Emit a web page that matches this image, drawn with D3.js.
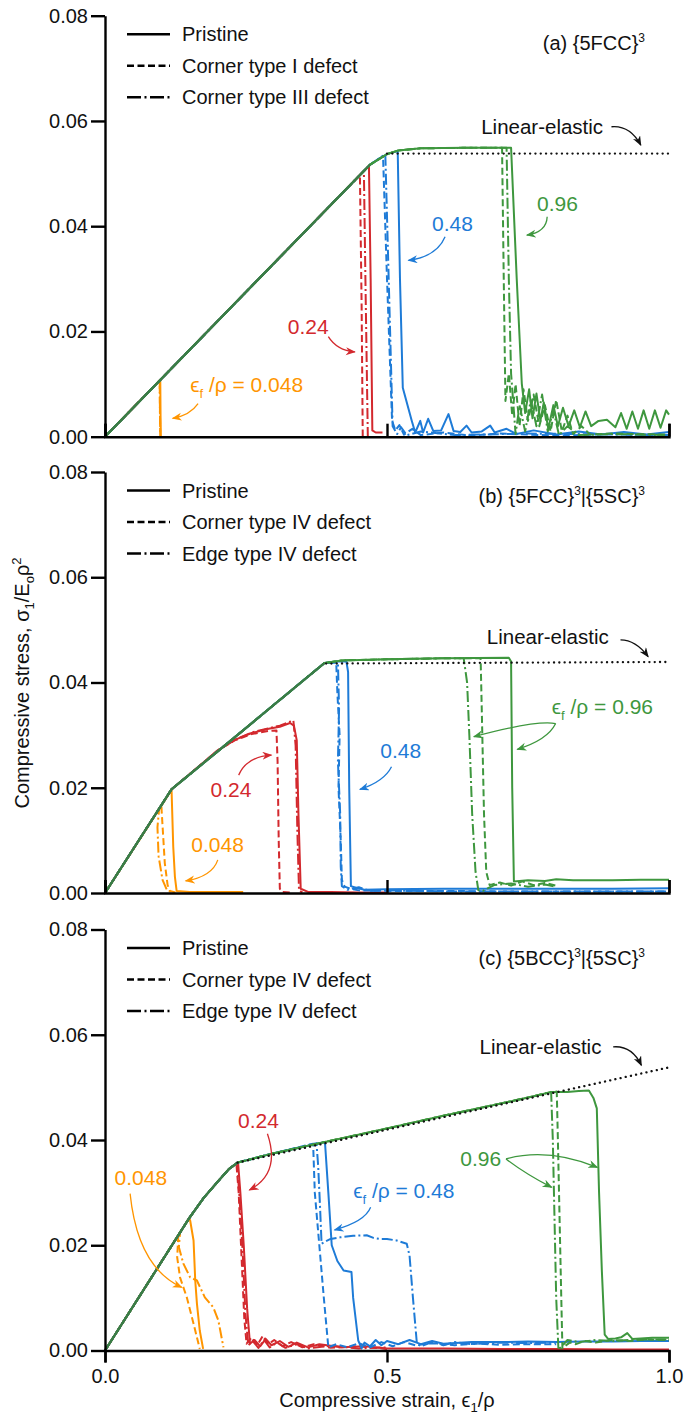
<!DOCTYPE html>
<html>
<head>
<meta charset="utf-8">
<script src="https://cdn.jsdelivr.net/npm/d3@7"></script>
<style>
  body { margin: 0; background: #fff; }
  text { font-family: "Liberation Sans", Arial, sans-serif; fill: #111; }
</style>
</head>
<body>
<svg id="chart" width="686" height="1416"></svg>
<script>
// ---- axis ticks ----
var xTicks = [0, 0.5, 1.0];
var xTickLabels = ["0.0", "0.5", "1.0"];
var yTicks = [0, 0.02, 0.04, 0.06, 0.08];
var yTickLabels = ["0.00", "0.02", "0.04", "0.06", "0.08"];

// ---- (a) {5FCC}^3 : loading path + failure tails [strain, stress] ----
var riseA = [[0,0],[0.47,0.0517],[0.50,0.0537],[0.52,0.0544],[0.56,0.0548],[0.64,0.0549],[0.73,0.0549]];
var elasticA = [[0.50,0.0538],[1.0,0.0538]];
var a048Pristine = [[0.098,0.0108],[0.0985,0.004],[0.099,0]];
var a048Corner   = [[0.097,0.0107],[0.0975,0.004],[0.098,0]];
var a048Edge     = [[0.097,0.0107],[0.0975,0.004],[0.098,0]];
var a24Pristine  = [[0.468,0.0515],[0.471,0.030],[0.474,0.0012],[0.480,0.0008],[0.492,0.0008]];
var a24Corner    = [[0.452,0.0497],[0.455,0.025],[0.457,0]];
var a24Edge      = [[0.459,0.0505],[0.462,0.028],[0.466,0]];
var a48Pristine  = [[0.519,0.0543],[0.523,0.030],[0.528,0.0093],[0.544,0.0030],[0.550,0.0008],[0.559,0.0030],[0.564,0.0008],
  [0.573,0.0034],[0.582,0.0011],[0.596,0.0012],[0.609,0.0043],[0.618,0.0011],[0.630,0.0009],[0.641,0.0021],[0.650,0.0008],
  [0.668,0.0010],[0.683,0.0021],[0.691,0.0008],[0.712,0.0015],[0.73,0.0005],[0.76,0.0012],[0.80,0.0004],[0.84,0.0010],
  [0.88,0.0004],[0.92,0.0009],[0.96,0.0004],[1.0,0.0009]];
var a48Corner    = [[0.493,0.0533],[0.500,0.030],[0.509,0.0030],[0.515,0.0012],[0.522,0.0022],[0.530,0.0004],[0.545,0.0015],
  [0.56,0.0003],[0.60,0.0008],[0.65,0.0002],[0.70,0.0006],[0.80,0.0002],[0.90,0.0005],[1.0,0.0002]];
var a48Edge      = [[0.497,0.0537],[0.503,0.030],[0.510,0.0020],[0.518,0.0005],[0.525,0.0018],[0.535,0.0003],[0.56,0.0010],
  [0.62,0.0003],[0.75,0.0006],[1.0,0.0003]];
var a96Pristine  = [[0.72,0.0549],[0.73,0.030],[0.739,0.0101],[0.745,0.0045],[0.752,0.0090],[0.758,0.0035],[0.765,0.0082],
  [0.772,0.0030],[0.778,0.0065],[0.786,0.0015],[0.795,0.0060],[0.803,0.0020],[0.812,0.0055],[0.822,0.0020],[0.832,0.0050],
  [0.842,0.0018],[0.852,0.0048],[0.862,0.0020],[0.875,0.0030],[0.890,0.0032],[0.905,0.0018],[0.915,0.0045],[0.925,0.0015],
  [0.935,0.0048],[0.945,0.0015],[0.955,0.0050],[0.965,0.0015],[0.975,0.0050],[0.985,0.0017],[0.995,0.0050],[1.0,0.0042]];
var a96Corner    = [[0.704,0.0549],[0.707,0.030],[0.710,0.0068],[0.716,0.0120],[0.722,0.0040],[0.728,0.0100],[0.735,0.0020],
  [0.742,0.0090],[0.750,0.0030],[0.760,0.0080],[0.770,0.0020],[0.780,0.0060],[0.790,0.0010],[0.800,0.0070],[0.810,0.0010],
  [0.820,0.0040],[0.830,0.0005],[0.845,0.0020],[0.860,0.0004],[0.90,0.0006],[1.0,0.0004]];
var a96Edge      = [[0.712,0.0549],[0.716,0.030],[0.720,0.0120],[0.728,0.0005],[0.735,0.0060],[0.745,0.0010],[0.755,0.0070],
  [0.765,0.0020],[0.775,0.0080],[0.785,0.0010],[0.795,0.0050],[0.805,0.0003],[0.82,0.0020],[0.84,0.0003],[0.9,0.0005],[1.0,0.0003]];

// ---- (b) {5FCC}^3|{5SC}^3 ----
var riseB = [[0,0],[0.118,0.0197],[0.203,0.0272],[0.30,0.0358],[0.389,0.0437],[0.42,0.0442],[0.50,0.0444],[0.60,0.0446],[0.72,0.0447]];
var elasticB = [[0.392,0.0436],[1.0,0.0439]];
var b048Pristine = [[0.118,0.0196],[0.121,0.0088],[0.124,0.0030],[0.127,0.0004],[0.15,0.0002],[0.20,0.0002],[0.245,0.0002]];
var b048Corner   = [[0.100,0.0166],[0.1005,0.0155],[0.106,0.0057],[0.111,0.0015],[0.115,0.0004],[0.125,0.0001]];
var b048Edge     = [[0.096,0.0160],[0.093,0.0125],[0.095,0.0070],[0.102,0.0025],[0.110,0.0005],[0.12,0.0001]];
var b24Pristine  = [[0.20,0.0271],[0.23,0.0291],[0.26,0.0304],[0.29,0.0312],[0.31,0.0316],[0.328,0.0323],[0.335,0.0318],
  [0.340,0.0290],[0.343,0.015],[0.347,0.0008],[0.36,0.0002],[0.40,0.0002],[0.45,0.0001],[0.50,0.0001]];
var b24Corner    = [[0.20,0.0271],[0.23,0.0290],[0.26,0.0302],[0.29,0.0308],[0.304,0.0309],[0.306,0.025],[0.308,0.010],
  [0.310,0.0008],[0.314,0.0002],[0.33,0.0001]];
var b24Edge      = [[0.20,0.0271],[0.23,0.0291],[0.26,0.0305],[0.29,0.0313],[0.31,0.0318],[0.334,0.0328],[0.338,0.028],
  [0.341,0.012],[0.344,0.0005],[0.35,0.0001]];
var b48Pristine  = [[0.41,0.0440],[0.428,0.0440],[0.431,0.0420],[0.433,0.020],[0.436,0.0013],[0.445,0.0010],[0.46,0.0006],
  [0.50,0.0007],[0.60,0.0008],[0.70,0.0008],[0.80,0.0008],[0.90,0.0008],[1.0,0.0009]];
var b48Corner    = [[0.41,0.0438],[0.412,0.038],[0.416,0.030],[0.414,0.020],[0.418,0.010],[0.420,0.0025],[0.425,0.0012],
  [0.435,0.0008],[0.45,0.0005],[0.50,0.0004],[0.60,0.0004],[0.70,0.0003],[1.0,0.0003]];
var b48Edge      = [[0.413,0.0438],[0.415,0.035],[0.413,0.025],[0.417,0.015],[0.418,0.005],[0.420,0.0013],[0.43,0.0006],
  [0.45,0.0011],[0.47,0.0004],[0.50,0.0005],[0.60,0.0003],[1.0,0.0003]];
var b96Pristine  = [[0.716,0.0447],[0.720,0.0440],[0.722,0.020],[0.725,0.0022],[0.75,0.0024],[0.78,0.0023],[0.80,0.0026],
  [0.83,0.0024],[0.86,0.0024],[0.90,0.0024],[0.95,0.0025],[1.0,0.0025]];
var b96Corner    = [[0.666,0.0446],[0.668,0.035],[0.672,0.015],[0.676,0.004],[0.682,0.0015],[0.70,0.0020],[0.72,0.0014],
  [0.74,0.0022],[0.76,0.0015],[0.78,0.0019],[0.80,0.0014]];
var b96Edge      = [[0.636,0.0446],[0.642,0.040],[0.646,0.030],[0.651,0.015],[0.657,0.004],[0.662,0.0005],[0.670,0.0004],
  [0.69,0.0015],[0.72,0.0018],[0.75,0.0012],[0.78,0.0016],[0.80,0.0012]];

// ---- (c) {5BCC}^3|{5SC}^3 ----
var riseC = [[0,0],[0.149,0.0251],[0.175,0.0290],[0.20,0.0321],[0.22,0.0345],[0.235,0.0357],[0.26,0.0364],[0.30,0.0375],
  [0.38,0.0394],[0.50,0.0422],[0.60,0.0446],[0.70,0.0469],[0.76,0.0483],[0.79,0.0491],[0.82,0.0491],[0.84,0.0493]];
var elasticC = [[0.235,0.0357],[1.0,0.0538]];
var c048Pristine = [[0.150,0.0250],[0.151,0.0247],[0.157,0.0209],[0.160,0.0133],[0.163,0.0089],[0.168,0.0038],[0.174,0.0003]];
var c048Corner   = [[0.130,0.0219],[0.128,0.0177],[0.133,0.0139],[0.145,0.0101],[0.157,0.0051],[0.168,0.0003]];
var c048Edge     = [[0.133,0.0224],[0.131,0.0196],[0.139,0.0165],[0.151,0.0139],[0.163,0.0133],[0.177,0.0101],[0.192,0.0082],
  [0.201,0.0057],[0.210,0.0006]];
var c24Pristine  = [[0.236,0.0356],[0.240,0.030],[0.246,0.020],[0.252,0.008],[0.257,0.0013],[0.265,0.0020],[0.275,0.0008],
  [0.285,0.0022],[0.295,0.0010],[0.31,0.0018],[0.325,0.0007],[0.34,0.0015],[0.36,0.0006],[0.38,0.0012],[0.42,0.0006],
  [0.46,0.0008],[0.50,0.0004],[0.60,0.0004],[0.70,0.0003],[0.80,0.0003],[0.90,0.0002],[1.0,0.0002]];
var c24Corner    = [[0.233,0.0355],[0.237,0.030],[0.242,0.018],[0.247,0.006],[0.251,0.0013],[0.26,0.0025],[0.27,0.0010],
  [0.28,0.0028],[0.29,0.0012],[0.30,0.0020],[0.315,0.0008],[0.33,0.0016],[0.35,0.0006],[0.37,0.0012],[0.40,0.0005],
  [0.45,0.0008],[0.50,0.0003]];
var c24Edge      = [[0.234,0.0356],[0.238,0.030],[0.244,0.019],[0.249,0.007],[0.254,0.0010],[0.262,0.0018],[0.272,0.0005],
  [0.282,0.0020],[0.292,0.0006],[0.305,0.0015],[0.32,0.0005],[0.34,0.0012],[0.36,0.0004],[0.40,0.0009],[0.45,0.0004],[0.50,0.0006]];
var c48Pristine  = [[0.390,0.0396],[0.391,0.0380],[0.396,0.030],[0.402,0.0200],[0.412,0.0170],[0.423,0.0152],[0.437,0.0149],
  [0.440,0.010],[0.449,0.0019],[0.455,0.0004],[0.46,0.0015],[0.47,0.0008],[0.48,0.0020],[0.49,0.0010],[0.50,0.0018],
  [0.52,0.0012],[0.54,0.0020],[0.56,0.0012],[0.58,0.0018],[0.60,0.0013],[0.65,0.0016],[0.70,0.0016],[0.75,0.0017],
  [0.80,0.0016],[0.85,0.0017],[0.90,0.0017],[0.95,0.0018],[1.0,0.0018]];
var c48Corner    = [[0.369,0.0393],[0.372,0.030],[0.380,0.020],[0.388,0.010],[0.396,0.0006],[0.41,0.0012],[0.43,0.0006],
  [0.45,0.0014],[0.47,0.0006],[0.49,0.0016],[0.51,0.0008],[0.53,0.0016],[0.55,0.0010],[0.58,0.0014],[0.62,0.0010],
  [0.66,0.0013],[0.70,0.0011],[0.75,0.0012],[0.80,0.0012]];
var c48Edge      = [[0.375,0.0394],[0.378,0.035],[0.381,0.028],[0.384,0.0203],[0.392,0.0208],[0.40,0.0212],[0.417,0.0215],
  [0.44,0.0218],[0.464,0.0219],[0.476,0.0214],[0.488,0.0212],[0.50,0.0212],[0.517,0.0209],[0.535,0.0203],[0.540,0.018],
  [0.546,0.010],[0.553,0.0013],[0.56,0.0008],[0.58,0.0016],[0.60,0.0010],[0.62,0.0016],[0.65,0.0012],[0.70,0.0015],
  [0.75,0.0014],[0.80,0.0015]];
var c96Pristine  = [[0.858,0.0494],[0.866,0.0480],[0.872,0.0460],[0.876,0.030],[0.881,0.015],[0.886,0.0030],[0.892,0.0022],
  [0.905,0.0023],[0.915,0.0025],[0.926,0.0033],[0.935,0.0022],[0.95,0.0023],[0.97,0.0024],[1.0,0.0024]];
var c96Corner    = [[0.801,0.0492],[0.803,0.040],[0.806,0.025],[0.809,0.010],[0.811,0.0004],[0.815,0.0008],[0.824,0.0015],
  [0.835,0.0012],[0.85,0.0018],[0.87,0.0015],[0.90,0.0020],[0.93,0.0018],[0.96,0.0021],[1.0,0.0020]];
var c96Edge      = [[0.791,0.0491],[0.794,0.040],[0.797,0.025],[0.800,0.010],[0.804,0.0001],[0.81,0.0008],[0.82,0.0020],
  [0.84,0.0016],[0.87,0.0020],[0.90,0.0018],[0.94,0.0021],[1.0,0.0021]];

// ---- colours / styles ----
var colors = {o: "#ff9500", r: "#d3292e", b: "#1e7bd7", g: "#3e973e", k: "#111"};
var riseColor = "#3b7c46";
var dash = {p: null, c: "7,3.5", e: "11,3,2,3"};

var svg = d3.select("#chart");

var width = 564, panelH = 421;
var x = d3.scaleLinear().domain([0, 1]).range([0, width]);
var y = d3.scaleLinear().domain([0, 0.08]).range([panelH, 0]);

var line = d3.line().x(function(d) { return x(d[0]); }).y(function(d) { return y(d[1]); });

// arrow heads, one per colour
var defs = svg.append("defs");
Object.keys(colors).forEach(function(k) {
  defs.append("marker")
    .attr("id", "arr-" + k)
    .attr("markerUnits", "userSpaceOnUse")
    .attr("markerWidth", 11).attr("markerHeight", 9)
    .attr("refX", 9).attr("refY", 4)
    .attr("orient", "auto")
    .append("path")
    .attr("d", "M0,0 L10,4 L0,8 L3,4 Z")
    .attr("fill", colors[k]);
});

function withRise(rise, tail) {
  var pts = rise.filter(function(p) { return p[0] < tail[0][0]; });
  return pts.concat(tail);
}

var panels = [
  { top: 15.7, rise: riseA, elastic: elasticA, knee: 0.47,
    title: ["(a) {5FCC}", "3", ""], titleY: 27,
    legend: ["Pristine", "Corner type I defect", "Corner type III defect"],
    series: [["o","c",a048Corner],["o","e",a048Edge],["o","p",a048Pristine],
             ["r","c",a24Corner],["r","e",a24Edge],["r","p",a24Pristine],
             ["b","c",a48Corner],["b","e",a48Edge],["b","p",a48Pristine],
             ["g","c",a96Corner],["g","e",a96Edge],["g","p",a96Pristine]],
    notes: [
      {c:"k", t:[["Linear-elastic"]], at:[0.667,0.0588], arrows:[[0.898,0.0589,0.931,0.0592,0.950,0.0554]]},
      {c:"g", t:[["0.96"]], at:[0.766,0.0442], arrows:[[0.784,0.0418,0.783,0.0389,0.748,0.0383]]},
      {c:"b", t:[["0.48"]], at:[0.580,0.0404], arrows:[[0.603,0.0380,0.588,0.0342,0.538,0.0335]]},
      {c:"r", t:[["0.24"]], at:[0.324,0.0210], arrows:[[0.396,0.0190,0.411,0.0164,0.443,0.0161]]},
      {c:"o", t:[["ϵ"],["f","sub"],[" /ρ = 0.048"]], at:[0.151,0.0098], arrows:[[0.165,0.0063,0.151,0.0041,0.120,0.0035]]}
    ] },
  { top: 472, rise: riseB, elastic: elasticB, knee: 0.389,
    title: ["(b) {5FCC}", "3", "|{5SC}", "3"], titleY: 24,
    legend: ["Pristine", "Corner type IV defect", "Edge type IV defect"],
    series: [["o","c",b048Corner],["o","e",b048Edge],["o","p",b048Pristine],
             ["r","c",b24Corner],["r","e",b24Edge],["r","p",b24Pristine],
             ["b","c",b48Corner],["b","e",b48Edge],["b","p",b48Pristine],
             ["g","c",b96Corner],["g","e",b96Edge],["g","p",b96Pristine]],
    notes: [
      {c:"k", t:[["Linear-elastic"]], at:[0.677,0.0487], arrows:[[0.914,0.0481,0.941,0.0481,0.963,0.0449]]},
      {c:"g", t:[["ϵ"],["f","sub"],[" /ρ = 0.96"]], at:[0.792,0.0354],
        arrows:[[0.799,0.0322,0.765,0.0329,0.654,0.0297],[0.799,0.0322,0.785,0.0291,0.731,0.0273]]},
      {c:"b", t:[["0.48"]], at:[0.488,0.0270], arrows:[[0.508,0.0240,0.495,0.0212,0.452,0.0197]]},
      {c:"r", t:[["0.24"]], at:[0.187,0.0196], arrows:[[0.237,0.0224,0.251,0.0259,0.295,0.0262]]},
      {c:"o", t:[["0.048"]], at:[0.153,0.0091], arrows:[[0.200,0.0063,0.190,0.0031,0.143,0.0023]]}
    ] },
  { top: 929.5, rise: riseC, elastic: elasticC, knee: 0.235,
    title: ["(c) {5BCC}", "3", "|{5SC}", "3"], titleY: 28,
    legend: ["Pristine", "Corner type IV defect", "Edge type IV defect"],
    series: [["o","c",c048Corner],["o","e",c048Edge],["o","p",c048Pristine],
             ["r","c",c24Corner],["r","e",c24Edge],["r","p",c24Pristine],
             ["b","c",c48Corner],["b","e",c48Edge],["b","p",c48Pristine],
             ["g","c",c96Corner],["g","e",c96Edge],["g","p",c96Pristine]],
    notes: [
      {c:"k", t:[["Linear-elastic"]], at:[0.664,0.0578], arrows:[[0.901,0.0577,0.934,0.0580,0.951,0.0542]]},
      {c:"r", t:[["0.24"]], at:[0.236,0.0437], arrows:[[0.288,0.0412,0.312,0.0336,0.256,0.0305]]},
      {c:"g", t:[["0.96"]], at:[0.630,0.0364],
        arrows:[[0.711,0.0364,0.745,0.0336,0.792,0.0310],[0.711,0.0364,0.785,0.0386,0.873,0.0348]]},
      {c:"b", t:[["ϵ"],["f","sub"],[" /ρ = 0.48"]], at:[0.440,0.0303], arrows:[[0.471,0.0272,0.461,0.0245,0.407,0.0229]]},
      {c:"o", t:[["0.048"]], at:[0.017,0.0328], arrows:[[0.0445,0.0298,0.058,0.0158,0.136,0.0120]]}
    ] }
];

panels.forEach(function(p, i) {
  var g = svg.append("g").attr("transform", "translate(105," + p.top + ")");
  var last = i === panels.length - 1;

  // curves
  p.series.forEach(function(s) {
    g.append("path")
      .attr("d", line(withRise(p.rise, s[2])))
      .attr("fill", "none")
      .attr("stroke", colors[s[0]])
      .attr("stroke-width", 2)
      .attr("stroke-linejoin", "round")
      .attr("stroke-dasharray", dash[s[1]]);
  });

  // shared loading branch, where all curves overlap
  g.append("path")
    .attr("d", line(p.rise.filter(function(d) { return d[0] <= p.knee; })))
    .attr("fill", "none")
    .attr("stroke", riseColor)
    .attr("stroke-width", 2.3);

  // linear-elastic reference
  g.append("path")
    .attr("d", line(p.elastic))
    .attr("fill", "none")
    .attr("stroke", "#111")
    .attr("stroke-width", 2.3)
    .attr("stroke-linecap", "round")
    .attr("stroke-dasharray", "0.1,5.2");

  // Y axis
  var yAxis = d3.axisLeft(y).tickValues(yTicks).tickSize(14).tickSizeOuter(0).tickPadding(3)
    .tickFormat(function(d, j) { return yTickLabels[j]; });
  var ya = g.append("g").call(yAxis);
  ya.selectAll("text").style("font-size", "20px").attr("fill", "#111");

  // X axis
  var xAxis = d3.axisBottom(x).tickValues(xTicks).tickSizeOuter(0);
  if (last) {
    xAxis.tickSize(12).tickPadding(6).tickFormat(function(d, j) { return xTickLabels[j]; });
  } else {
    xAxis.tickSize(-13).tickFormat("");
  }
  var xa = g.append("g").attr("transform", "translate(0," + panelH + ")").call(xAxis);
  xa.selectAll("text").style("font-size", "20px").attr("fill", "#111");

  [ya, xa].forEach(function(a) {
    a.selectAll("path, line").attr("stroke", "#000").attr("stroke-width", 2.4);
  });

  // legend
  p.legend.forEach(function(lab, j) {
    var ly = 18.5 + j * 31.5;
    g.append("line")
      .attr("x1", 22).attr("x2", 65).attr("y1", ly).attr("y2", ly)
      .attr("stroke", "#000").attr("stroke-width", 2.4)
      .attr("stroke-dasharray", [null, "7,3.5", "14,3.5,2,3.5"][j]);
    g.append("text").attr("x", 77).attr("y", ly).attr("dy", "0.35em")
      .style("font-size", "20px").text(lab);
  });

  // panel title
  var tt = g.append("text").attr("x", 540).attr("y", p.titleY).attr("dy", "0.35em")
    .attr("text-anchor", "end").style("font-size", "20px");
  p.title.forEach(function(part, j) {
    if (j % 2 === 0) tt.append("tspan").attr("dy", j ? 8 : null).text(part);
    else tt.append("tspan").attr("dy", -8).style("font-size", "12px").text(part);
  });

  // annotations
  p.notes.forEach(function(n) {
    var col = colors[n.c];
    var t = g.append("text").attr("x", x(n.at[0])).attr("y", y(n.at[1])).attr("dy", "0.35em")
      .style("font-size", n.c === "k" ? "20.5px" : "21px").style("fill", col);
    var shifted = false;
    n.t.forEach(function(part) {
      var ts = t.append("tspan").text(part[0]);
      if (part[1] === "sub") { ts.attr("dy", 6).style("font-size", "13px"); shifted = true; }
      else if (shifted) { ts.attr("dy", -6); shifted = false; }
    });
    n.arrows.forEach(function(a) {
      g.append("path")
        .attr("d", "M" + x(a[0]) + "," + y(a[1]) + " Q" + x(a[2]) + "," + y(a[3]) + " " + x(a[4]) + "," + y(a[5]))
        .attr("fill", "none").attr("stroke", col).attr("stroke-width", 1.3)
        .attr("marker-end", "url(#arr-" + n.c + ")");
    });
  });
});

// axis titles
var yl = svg.append("text")
  .attr("transform", "translate(29,683) rotate(-90)")
  .attr("text-anchor", "middle").style("font-size", "20px");
yl.append("tspan").text("Compressive stress, σ");
yl.append("tspan").attr("dy", 5).style("font-size", "13px").text("1");
yl.append("tspan").attr("dy", -5).text("/E");
yl.append("tspan").attr("dy", 5).style("font-size", "13px").text("o");
yl.append("tspan").attr("dy", -5).text("ρ");
yl.append("tspan").attr("dy", -8).style("font-size", "13px").text("2");

var xl = svg.append("text")
  .attr("x", 387).attr("y", 1407)
  .attr("text-anchor", "middle").style("font-size", "20px");
xl.append("tspan").text("Compressive strain, ϵ");
xl.append("tspan").attr("dy", 5).style("font-size", "13px").text("1");
xl.append("tspan").attr("dy", -5).text("/ρ");
</script>
</body>
</html>
